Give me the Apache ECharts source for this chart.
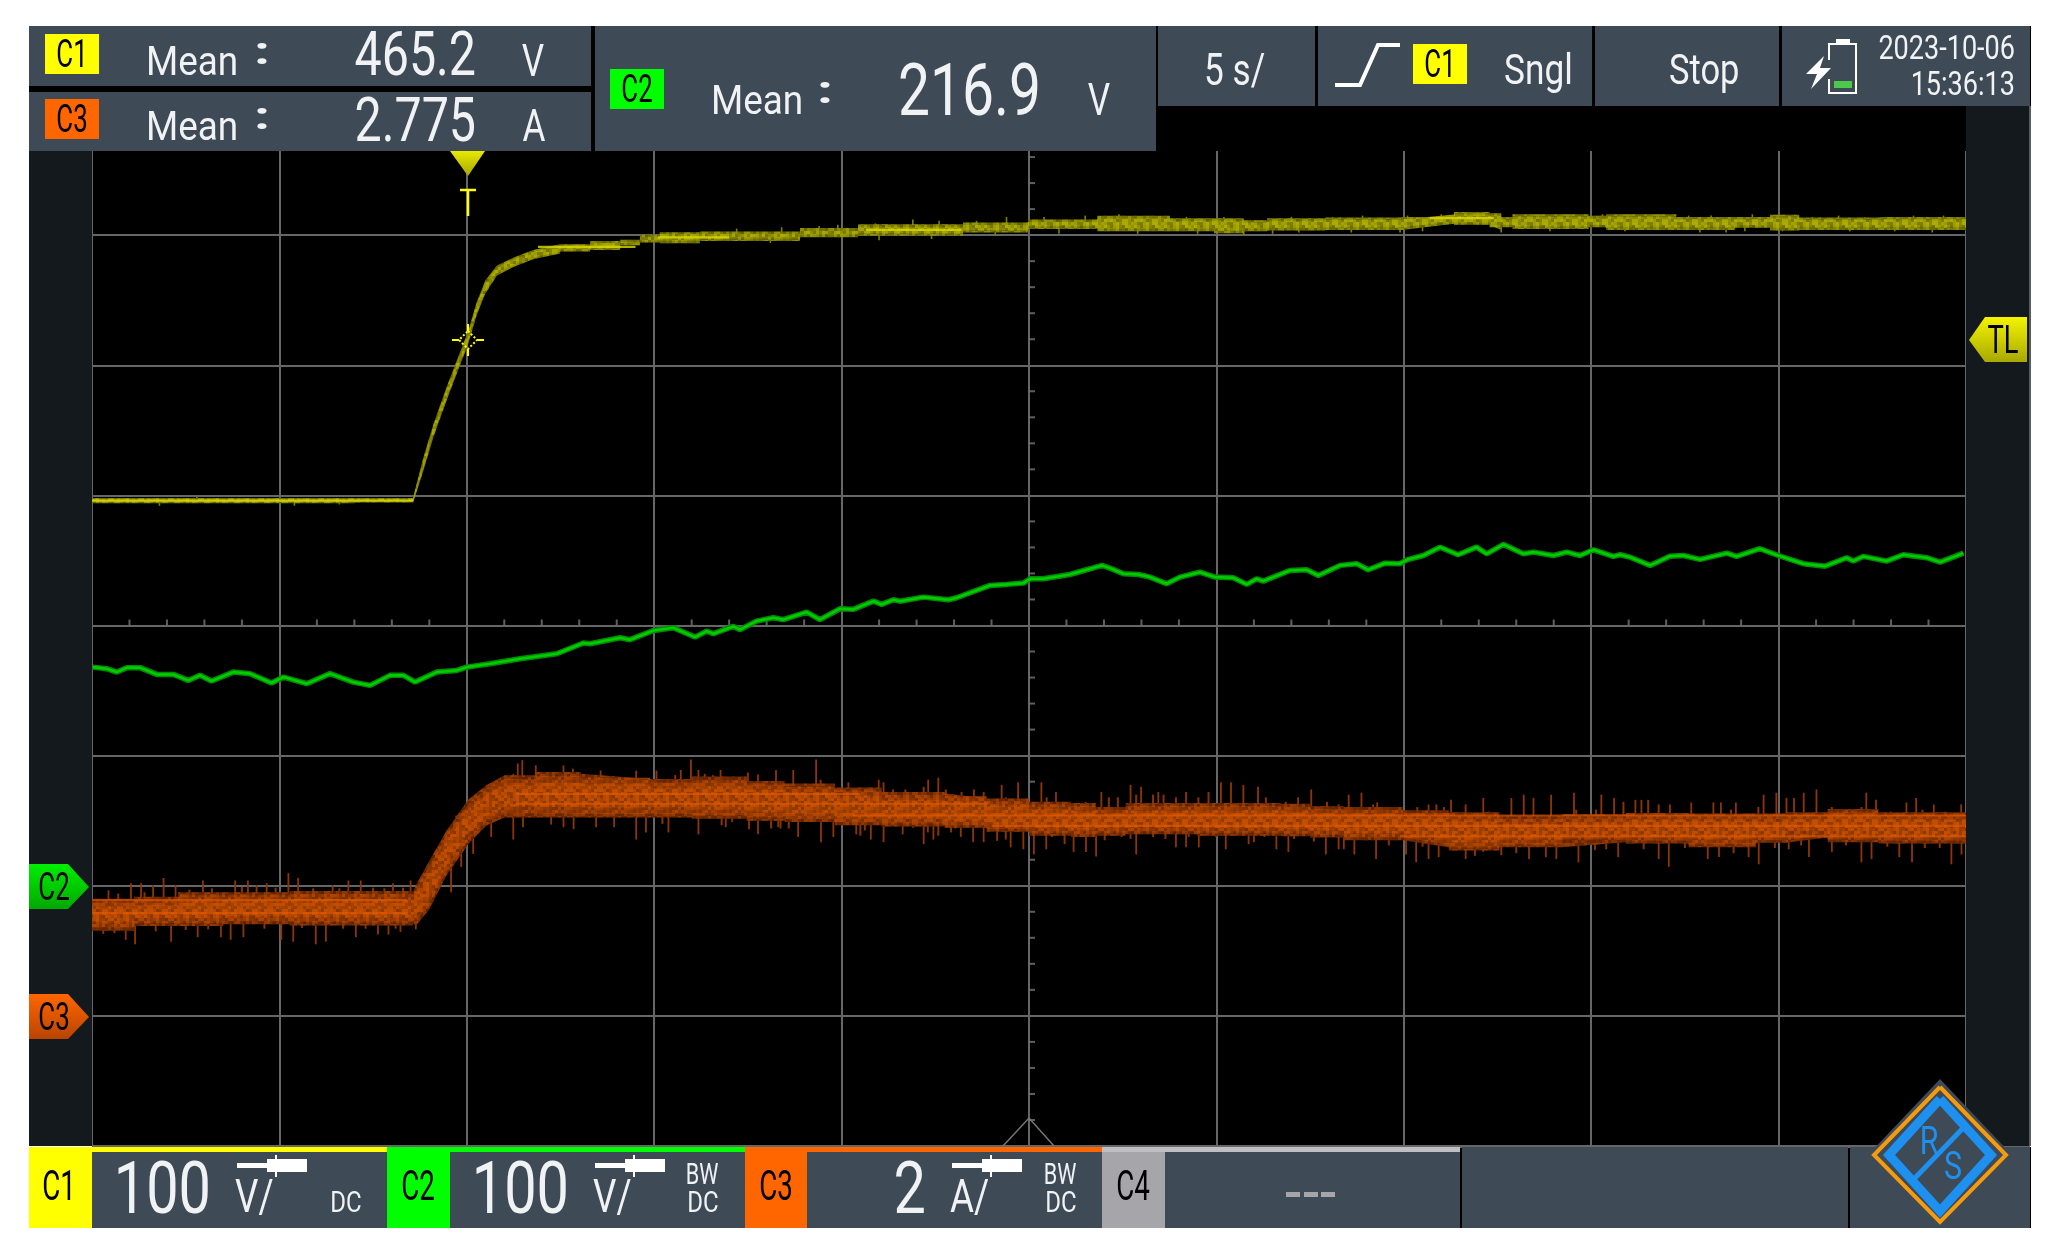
<!DOCTYPE html>
<html><head><meta charset="utf-8">
<style>html,body{margin:0;padding:0;background:#fff}#c{width:2067px;height:1255px}</style>
<script src="https://cdn.jsdelivr.net/npm/echarts@6/dist/echarts.min.js"></script>
</head><body><div id="c"></div>
<script>
// ---------- readouts ----------
const readoutMeanC1 = "465.2", readoutMeanC2 = "216.9", readoutMeanC3 = "2.775";
const timeBase = "5 s/", dateText = "2023-10-06", timeText = "15:36:13";
// ---------- C1 voltage (s, V, half-thickness of the band in V) ----------
const c1Times = [-10,-6,-3,-1.43,-1.16,-0.89,-0.54,-0.27,0.04,0.26,0.49,0.80,1.24,1.77,2.49,3.29,4.09,4.62,5.15,6.22,8.89,10.44,13.24,14.97,16.82,18.76,19.94,20.73,21.35,22.9,24.94,26.34,27.29,27.6,27.9,29.93,30.4,32.27,33.84,34.77,35.55,37.73,40];
const c1Volts = [296,296,296,296.6,324,349.8,378,398.5,421.5,443.3,459.9,472.7,479.1,485,489.4,491.4,492.5,496.3,498.3,498.3,500.4,503.4,504.7,507,509.8,508,508,506.5,508,508.6,509,513.2,512.4,509,511,509.8,511,509,509,510.6,508.6,509,509];
const c1Spread = [2,2,2,2,5,5,5,5,5,5,5,4,3.5,3.5,3.5,4,4,4,4,4.5,5,5,5,5,5,5,5,5,5,5,5,4.5,4.5,5,5,5,5,5,5,5,5,5,5];
const c1Spikes = [[-8.2,292],[-7.2,299],[-4.6,292],[-3.4,293],[20.73,500],[27.6,502],[33.6,502],[21.5,501],[24.9,502],[26,516],[27,516],[30.3,516],[18.5,514],[16.5,515],[14.4,514],[11.9,512],[9.4,507],[7.2,505],[8.4,506],[9.9,508],[10.9,509],[12.6,511],[13.6,511],[15.4,514],[17.4,516],[19.2,514],[20.2,514],[22,514],[23.1,514],[23.9,515],[25.1,515],[28.4,516],[29.1,515],[31.2,515],[32.6,515],[33.2,515],[34.3,516],[35.9,514],[36.6,515],[37.3,514],[38.6,515],[39.4,515],[8.1,494],[11,496],[12.4,497],[14.1,500],[15.8,501],[17.9,501],[19.5,501],[22.2,502],[23.6,502],[25.5,503],[28.9,503],[30.9,503],[32.9,502],[34.1,503],[35.1,503],[36.9,503],[38.1,503],[39.1,502]];
const c1CoreSpans = [[-10,-1.43,296],[1.9,4.5,491],[5.1,7,498.3],[10.65,13.2,504],[25.7,27.4,513]];
// ---------- C2 voltage (s, V) ----------
const c2Times = [-9.98,-9.61,-9.34,-9.07,-8.72,-8.27,-7.83,-7.43,-7.12,-6.81,-6.23,-5.78,-5.21,-4.89,-4.27,-3.65,-3.03,-2.58,-2.05,-1.69,-1.38,-0.80,-0.27,0,0.62,1.42,2.40,3.11,3.29,4.09,4.35,4.98,5.51,6.09,6.40,6.58,7.11,7.29,7.73,8.18,8.44,9.07,9.42,9.96,10.31,10.85,11.07,11.38,11.56,12.18,12.85,13.07,13.96,14.41,14.85,15.03,15.38,16.09,16.63,16.94,17.16,17.52,17.92,18.23,18.67,19.03,19.56,19.96,20.45,20.81,21.07,21.25,21.96,22.41,22.72,23.30,23.74,24.05,24.50,24.90,25.08,25.52,25.97,26.45,26.94,27.21,27.66,28.19,28.46,28.99,29.35,29.70,30.06,30.59,30.77,31.04,31.57,32.10,32.46,32.90,33.62,33.88,34.50,34.99,35.66,36.24,36.82,36.99,37.26,37.88,38.33,38.95,39.31,39.93];
const c2Volts = [168,166.8,164.2,167.6,167.6,162.4,162.4,157.8,161.7,157.3,164.2,163,155.8,160.4,155.3,163,156.5,154,161.7,161.7,156.5,164.2,165.5,168,170.6,174.5,178.3,186.5,186,190.6,189.1,196.2,198.3,191.1,195.7,193.7,199.3,196.8,203.4,206,204.5,210.3,204.5,212.9,212.4,218.7,216.2,219.8,218.7,221.8,219.8,221.3,230.8,231.6,232.6,235.9,235.9,239.2,243.6,246.2,244.1,239.8,239.2,237.2,232.1,237.2,241,237.2,236.7,231.6,235.9,234.1,242.3,242.8,238.5,246.2,247.5,242.8,247.9,247.5,250.5,253.8,260.2,254.4,260.2,255.1,262.3,255.1,256.4,253.8,256.4,253.8,258.2,253.1,254.4,252.5,246.2,253.3,253.8,250.8,255.6,253.1,259,253.8,247.5,245.6,252.1,249.5,253.1,249.5,254.4,252.1,248.7,255.6];
// ---------- C3 current envelope (s, A) ----------
const c3Times = [-10,-8.88,-7.7,-6.5,-4.72,-2.93,-1.44,-1.33,-1.02,-0.54,0.05,0.53,1.01,1.84,3.04,4.89,6.0,7.47,8.48,9.82,11.07,12.75,13.87,15,16.12,16.79,17.58,19.48,21.73,22.5,23.4,24.97,26.2,27.55,29.23,30.92,32.6,34.4,35.19,36.31,37.66,38.78,40];
const c3Upper = [1.80,1.83,1.90,1.90,1.92,1.92,1.90,2.04,2.36,2.85,3.33,3.55,3.70,3.75,3.72,3.64,3.68,3.61,3.57,3.51,3.44,3.42,3.34,3.29,3.27,3.21,3.27,3.27,3.26,3.22,3.21,3.16,3.13,3.08,3.10,3.12,3.11,3.11,3.13,3.18,3.13,3.13,3.11];
const c3Lower = [1.30,1.31,1.38,1.38,1.41,1.39,1.39,1.41,1.62,2.16,2.65,2.93,3.05,3.05,3.05,3.05,3.05,3.03,3.00,2.98,2.93,2.91,2.89,2.83,2.77,2.75,2.77,2.79,2.77,2.76,2.74,2.70,2.59,2.54,2.59,2.67,2.65,2.59,2.66,2.74,2.67,2.65,2.65];
const c3SpikesUp = [[-9.56,1.93],[-8.96,2.04],[-8.69,2.04],[-8.37,2.01],[-8.09,2.12],[-7.77,2.01],[-7.04,2.08],[-6.18,2.08],[-5.84,2.08],[-5.61,2.01],[-5.34,2.04],[-4.76,2.195],[-4.50,2.12],[-3.58,2.01],[-3.16,2.08],[-2.83,2.08],[-1.97,2.04],[-1.50,2.08],[-0.28,3.08],[1.24,3.72],[1.36,3.88],[1.48,3.93],[1.84,3.85],[2.58,3.85],[2.83,3.80],[3.57,3.77],[4.52,3.77],[5.06,3.77],[5.71,3.78],[5.98,3.94],[6.18,3.78],[6.77,3.78],[7.50,3.74],[7.77,3.71],[8.25,3.78],[8.71,3.78],[9.32,3.94],[10.18,3.59],[10.99,3.63],[11.12,3.59],[12.31,3.63],[12.58,3.66],[14.27,3.55],[14.71,3.59],[15.33,3.59],[15.72,3.44],[16.93,3.44],[17.71,3.55],[17.99,3.52],[18.45,3.44],[19.19,3.44],[20.12,3.59],[20.39,3.59],[20.72,3.55],[21.11,3.52],[22.18,3.36],[22.53,3.48],[23.53,3.40],[23.87,3.43],[24.29,3.28],[25.66,3.25],[26.26,3.32],[27.12,3.35],[27.87,3.35],[28.20,3.40],[28.46,3.35],[28.93,3.40],[29.54,3.43],[30.27,3.40],[30.61,3.35],[31.18,3.32],[31.34,3.32],[32.67,3.28],[33.26,3.28],[33.46,3.28],[33.86,3.28],[34.60,3.40],[34.94,3.43],[35.21,3.35],[35.41,3.35],[35.67,3.43],[36.01,3.48],[37.34,3.43],[37.60,3.32],[38.41,3.28],[38.67,3.35],[39.14,3.25],[39.87,3.25]];
const c3SpikesDown = [[-9.10,1.17],[-8.85,1.10],[-7.89,1.14],[-7.18,1.21],[-6.56,1.21],[-6.30,1.17],[-5.96,1.21],[-4.95,1.17],[-4.63,1.14],[-4.03,1.10],[-3.76,1.14],[-2.96,1.21],[-2.37,1.25],[-2.09,1.25],[-1.77,1.29],[-1.36,1.33],[-0.42,1.90],[-0.15,2.29],[0.17,2.49],[0.65,2.75],[1.24,2.71],[1.50,2.90],[2.25,2.94],[2.58,2.90],[2.85,2.87],[3.45,2.90],[3.93,2.90],[4.52,2.71],[4.78,2.82],[5.38,2.82],[6.18,2.79],[6.91,2.90],[7.53,2.87],[7.77,2.79],[8.31,2.90],[8.84,2.75],[9.45,2.67],[9.78,2.75],[10.39,2.79],[10.78,2.71],[11.12,2.67],[11.63,2.79],[12.19,2.64],[12.45,2.71],[13.18,2.75],[13.51,2.67],[13.79,2.67],[14.51,2.59],[14.85,2.56],[15.13,2.48],[15.46,2.56],[16.19,2.52],[16.52,2.52],[16.79,2.45],[17.86,2.48],[18.92,2.59],[19.19,2.59],[19.53,2.59],[20.25,2.56],[20.86,2.64],[21.60,2.56],[21.92,2.52],[22.92,2.48],[23.26,2.56],[23.40,2.56],[23.68,2.48],[24.26,2.41],[25.06,2.48],[25.33,2.36],[25.66,2.41],[25.93,2.44],[26.65,2.41],[27.12,2.52],[28.34,2.41],[28.79,2.44],[29.07,2.41],[29.66,2.36],[30.72,2.44],[31.80,2.41],[32.07,2.29],[33.11,2.41],[33.41,2.44],[34.20,2.44],[34.47,2.33],[35.27,2.56],[35.81,2.44],[36.42,2.52],[37.21,2.36],[37.48,2.41],[38.22,2.44],[38.56,2.36],[39.61,2.33],[39.88,2.48]];
const c3HairsUp = [[-9.3,1.88],[-8.6,1.90],[-7.4,1.94],[-6.8,1.96],[-6.0,1.98],[-5.1,1.97],[-4.1,1.96],[-3.4,1.96],[-2.5,1.97],[-2.2,1.96],[-1.7,1.97],[5.56,3.70],[6.35,3.72],[6.57,3.70],[7.19,3.66],[7.36,3.66],[9.44,3.63],[10.78,3.51],[11.37,3.48],[11.70,3.48],[12.19,3.52],[12.78,3.48],[13.20,3.44],[13.53,3.48],[13.79,3.44],[14.38,3.36],[14.88,3.32],[15.47,3.36],[16.51,3.29],[17.13,3.36],[17.37,3.36],[17.86,3.40],[18.31,3.40],[18.59,3.40],[18.92,3.36],[19.52,3.36],[19.79,3.44],[21.32,3.36],[21.85,3.29],[22.95,3.29],[23.26,3.25],[24.18,3.25],[25.36,3.21],[25.87,3.25],[26.07,3.21],[26.65,3.25],[27.27,3.14],[29.6,3.17],[30.13,3.17],[30.86,3.29],[31.52,3.32],[31.8,3.25],[32.1,3.25],[33.73,3.17],[34.46,3.21],[36.42,3.21],[36.65,3.17],[37.21,3.21],[37.99,3.14],[38.84,3.17],[39.45,3.14]];
const c3HairsDown = [[-9.7,1.26],[-9.4,1.27],[-8.3,1.30],[-7.5,1.32],[-6.9,1.33],[-5.4,1.34],[-4.4,1.35],[-3.3,1.34],[-2.7,1.34],[-1.9,1.34],[5.22,2.95],[6.80,2.93],[7.08,2.98],[8.12,2.88],[8.37,2.88],[8.59,2.88],[9.16,2.98],[10.50,2.77],[10.62,2.85],[11.40,2.93],[11.91,2.89],[12.30,2.82],[12.58,2.77],[12.92,2.82],[13.03,2.88],[14.15,2.69],[14.38,2.71],[15.61,2.75],[15.95,2.64],[17.02,2.70],[17.47,2.75],[17.71,2.72],[18.31,2.75],[18.64,2.72],[19.26,2.75],[19.99,2.75],[21.0,2.67],[21.28,2.75],[22.07,2.72],[22.6,2.68],[24.6,2.62],[25.5,2.60],[26.9,2.46],[27.6,2.47],[28.0,2.50],[30.1,2.55],[30.4,2.56],[31.4,2.56],[32.5,2.58],[33.8,2.50],[34.9,2.58],[35.6,2.62],[36.8,2.62],[37.9,2.60],[38.9,2.58],[39.3,2.58]];
const c3Streaks = [[-10,-1.6,1.58],[-10,-1.6,1.78],[1.3,10.5,3.41],[1.3,13.9,3.26],[10.3,26,3.08],[14,40,2.92],[24.9,40,2.76],[26,40,3.08]];
// ---------- axes (per division scales) ----------
const timeMin = -10, timeMax = 40, timeDiv = 5;
const c1Min = -200, c1Max = 600, voltDiv = 100;
const c2Min = -200, c2Max = 600;
const c3Min = -2, c3Max = 14, ampDiv = 2;

const PANEL='#3e4a56', SIDE='#14191d', WHITE='#f0f2f4';
const FONT='Roboto';

// mottled phosphor look: a fixed tile, no data in it
const tileRows=["3141592653","5897932384","6264338327","9502884197","1693993751","0582097494","4592307816","4062862089","9862803482","5342117067"];
function tile(bright,w,h){
  const c=document.createElement('canvas');c.width=10*w;c.height=10*h;const x=c.getContext('2d');
  tileRows.forEach((r,j)=>[...r].forEach((d,i)=>{
    d=+d;
    x.fillStyle=d<5?'rgba(0,0,0,'+(5-d)*0.045+')':bright.replace('A',(d-4)*0.055);
    x.fillRect(i*w,j*h,w,h);
  }));
  return {image:c,repeat:'repeat'};
}
function band(times, hi, lo, color, yIdx, z){
  return {type:'custom',coordinateSystem:'cartesian2d',xAxisIndex:0,yAxisIndex:yIdx,z,clip:true,silent:true,
    data:times.map((t,i)=>[t,hi[i],lo[i]]),encode:{x:0,y:[1,2]},
    renderItem(p,api){
      if(p.dataIndex!==0) return null;
      const pts=[];
      const step=(a,b)=>Math.abs(a[1]-b[1])<5;
      for(let i=0;i<times.length;i++){
        const q=api.coord([times[i],hi[i]]);
        if(i&&step(pts[pts.length-1],q)) pts.push([q[0],pts[pts.length-1][1]]);
        pts.push(q);
      }
      for(let i=times.length-1;i>=0;i--){
        const q=api.coord([times[i],lo[i]]);
        if(i<times.length-1&&step(pts[pts.length-1],q)) pts.push([q[0],pts[pts.length-1][1]]);
        pts.push(q);
      }
      return {type:'polygon',shape:{points:pts},style:{fill:color}};
    }};
}
function spikes(list, times, hi, lo, color, yIdx, z, w){
  function mid(t){
    for(let i=1;i<times.length;i++) if(t<=times[i]){
      const f=(t-times[i-1])/(times[i]-times[i-1]);
      return (hi[i-1]+(hi[i]-hi[i-1])*f+lo[i-1]+(lo[i]-lo[i-1])*f)/2;
    }
    return (hi[hi.length-1]+lo[lo.length-1])/2;
  }
  return {type:'custom',coordinateSystem:'cartesian2d',xAxisIndex:0,yAxisIndex:yIdx,z,clip:true,silent:true,
    data:list,encode:{x:0,y:1},
    renderItem(p,api){
      const t=api.value(0),a=api.coord([t,api.value(1)]),b=api.coord([t,mid(t)]);
      return {type:'line',shape:{x1:a[0],y1:a[1],x2:b[0],y2:b[1]},style:{stroke:color,lineWidth:w}};
    }};
}
function spans(list,color,yIdx,z,w,op){
  return {type:'custom',coordinateSystem:'cartesian2d',xAxisIndex:0,yAxisIndex:yIdx,z,clip:true,silent:true,
    data:list,encode:{x:[0,1],y:2},
    renderItem(p,api){
      const a=api.coord([api.value(0),api.value(2)]),b=api.coord([api.value(1),api.value(2)]);
      return {type:'line',shape:{x1:a[0],y1:a[1],x2:b[0],y2:b[1]},style:{stroke:color,lineWidth:w,opacity:op}};
    }};
}
const inset=(hi,lo,f)=>[hi.map((v,i)=>v-(v-lo[i])*f),lo.map((v,i)=>v+(hi[i]-v)*f)];
const c1Hi=c1Volts.map((v,i)=>v+c1Spread[i]), c1Lo=c1Volts.map((v,i)=>v-c1Spread[i]);
const [c1InHi,c1InLo]=inset(c1Hi,c1Lo,0.2);
const [c3MidHi,c3MidLo]=inset(c3Upper,c3Lower,0.09);
const [c3InHi,c3InLo]=inset(c3Upper,c3Lower,0.24);

// centre-line graticule ticks, every 0.2 division
const xTicks=[],yTicks=[];
for(let i=0;i<=50;i++) if(i%5) xTicks.push([timeMin+i*timeDiv/5,200]);
for(let i=0;i<=40;i++) if(i%5) yTicks.push([15,c1Min+i*voltDiv/5]);

// ---------- instrument chrome ----------
const g=[];
function R(x,y,w,h,fill,z){g.push({type:'rect',z:z||10,silent:true,shape:{x,y,width:w,height:h},style:{fill}});}
function T(t,x,y,size,sx,color,align,z,weight){g.push({type:'text',z:z||20,silent:true,x,y:y+size*0.08,scaleX:sx,style:{text:t,x:0,y:0,fill:color||WHITE,font:(weight||'normal')+' '+size+'px '+FONT,textAlign:align||'left',textVerticalAlign:'middle'}});}
function P(pts,fill,z){g.push({type:'polygon',z:z||15,silent:true,shape:{points:pts},style:{fill}});}
function L(pts,stroke,w,z,dash){g.push({type:'polyline',z:z||15,silent:true,shape:{points:pts},style:{stroke,lineWidth:w,fill:'none',lineDash:dash||null}});}
const grad=(a,b)=>({type:'linear',x:0,y:0,x2:0,y2:1,colorStops:[{offset:0,color:a},{offset:1,color:b}]});
const YEL='#ffff00',GRN='#00ff00',ORG='#ff6600',GRY='#a5a5aa';

R(29,26,2002,125,'#000000',9);
R(29,1147,2002,81,'#000000',9);
R(29,151,63,995,SIDE); R(1966,106,64,1040,SIDE); R(2029,106,2,1040,'#555b60');
R(29,26,562,60,PANEL); R(29,92,562,59,PANEL); R(595,26,561,125,PANEL);
R(1158,26,157,80,PANEL); R(1318,26,274,80,PANEL); R(1595,26,184,80,PANEL); R(1782,26,248,80,PANEL);

const CHIP=38, CHIPS=0.68;
R(45,34,54,40,YEL); T('C1',72,54,CHIP,CHIPS,'#000','center');
T('Mean',146,61,41,0.9); T(':',262,51,38,1.5,WHITE,'center',20,'bold');
T(readoutMeanC1,476,55,62,0.78,WHITE,'right'); T('V',533,61,44,0.8,WHITE,'center');
R(45,99,54,40,ORG); T('C3',72,119,CHIP,CHIPS,'#000','center');
T('Mean',146,126,41,0.9); T(':',262,116,38,1.5,WHITE,'center',20,'bold');
T(readoutMeanC3,476,121,62,0.78,WHITE,'right'); T('A',534,126,44,0.8,WHITE,'center');
R(610,69,54,40,GRN); T('C2',637,89,CHIP,CHIPS,'#000','center');
T('Mean',711,100,41,0.9); T(':',825,90,38,1.5,WHITE,'center',20,'bold');
T(readoutMeanC2,1041,91,73,0.78,WHITE,'right'); T('V',1099,100,44,0.8,WHITE,'center');

T(timeBase,1204,70,44,0.8);
L([[1335,85],[1360,85],[1378,45],[1400,45]],'#ffffff',4,20);
R(1413,44,54,40,YEL); T('C1',1440,64,CHIP,CHIPS,'#000','center');
T('Sngl',1504,70,42,0.84); T('Stop',1669,70,42,0.82);
L([[1829,79],[1829,93],[1856,93],[1856,44],[1829,44],[1829,60]],'#ffffff',2,20);
R(1836,39,14,5,'#ffffff',20); R(1834,81,18,7,'#4cc84c',20);
P([[1824,56],[1806,74],[1817,74],[1811,89],[1831,68],[1820,68]],'#ffffff',20);
T(dateText,2015,48,33,0.82,WHITE,'right'); T(timeText,2015,84,33,0.82,WHITE,'right');

// trigger markers
P([[450,151],[485,151],[468,176]],grad('#e8e800','#a8a800'),15);
L([[460,190],[476,190]],YEL,2.5,15); L([[468,190],[468,216]],YEL,2.5,15);
L([[468,331],[477,340],[468,349],[459,340],[468,331]],YEL,2,30,[2,2]);
L([[452,340],[459,340]],YEL,2,30); L([[477,340],[484,340]],YEL,2,30);
L([[468,324],[468,331]],YEL,2,30); L([[468,349],[468,356]],YEL,2,30);
P([[2027,317],[1985,317],[1969,340],[1985,362],[2027,362]],grad('#f4f400','#a8a800'),15);
T('TL',2003,340,38,0.72,'#000','center');
P([[29,864],[68,864],[89,887],[68,909],[29,909]],grad('#00ee00','#00a800'),15);
T('C2',54,887,38,CHIPS,'#000','center');
P([[29,994],[68,994],[89,1017],[68,1039],[29,1039]],grad('#ff6600','#b84400'),15);
T('C3',54,1017,38,CHIPS,'#000','center');
L([[1003,1146],[1029,1118],[1054,1146]],'#777',1.5,8);

// bottom bar
R(92,1146,1938,2,'#666',9);
R(29,1147,358,81,YEL); R(92,1152,295,76,PANEL);
R(387,1147,358,81,GRN); R(450,1152,295,76,PANEL);
R(745,1147,357,81,ORG); R(807,1152,295,76,PANEL);
R(1102,1147,358,81,'#bfbfc2'); R(1102,1152,63,76,GRY); R(1165,1152,295,76,PANEL);
R(1462,1147,386,81,PANEL); R(1850,1147,180,81,PANEL);
T('C1',59,1186,42,0.66,'#000','center'); T('C2',418,1186,42,0.66,'#000','center');
T('C3',776,1186,42,0.66,'#000','center'); T('C4',1133,1186,42,0.66,'#000','center');
function probe(dx){R(237+dx,1163,32,5,'#fff',20);R(267+dx,1159,40,13,'#fff',20);R(275+dx,1155,2,22,'#fff',20);}
T('100',211,1189,73,0.79,WHITE,'right'); T('V/',235,1197,46,0.8); probe(0); T('DC',346,1202,30,0.8,WHITE,'center');
T('100',569,1189,73,0.79,WHITE,'right'); T('V/',593,1197,46,0.8); probe(358); T('BW',702,1174,30,0.72,WHITE,'center'); T('DC',703,1202,30,0.8,WHITE,'center');
T('2',926,1189,73,0.79,WHITE,'right'); T('A/',950,1197,46,0.8); probe(715); T('BW',1060,1174,30,0.72,WHITE,'center'); T('DC',1061,1202,30,0.8,WHITE,'center');
R(1286,1192,14,5,GRY,20);R(1304,1192,14,5,GRY,20);R(1321,1192,14,5,GRY,20);

// logo
P([[1940,1079],[2012,1155],[1940,1228],[1868,1155]],PANEL,16);
L([[1940,1087],[2006,1155],[1940,1222],[1874,1155],[1940,1087]],'#f59b10',4,17);
L([[1940,1099],[1991,1155],[1940,1211],[1889,1155],[1940,1099]],'#1e90f0',9,18);
L([[1915,1178],[1966,1125]],'#1e90f0',5,18);
T('R',1929,1141,38,0.8,'#1e90f0','center',19); T('S',1953,1166,38,0.8,'#1e90f0','center',19);

const chart=echarts.init(document.getElementById('c'),null,{renderer:'canvas'});
chart.setOption({
  animation:false,backgroundColor:'#ffffff',
  grid:{left:92,right:101,top:105,bottom:109,show:true,backgroundColor:'#000000',borderWidth:0,containLabel:false},
  xAxis:{type:'value',min:timeMin,max:timeMax,interval:timeDiv,axisLabel:{show:false},axisTick:{show:false},axisLine:{show:false},
    splitLine:{show:true,lineStyle:{color:'#666666',width:2}}},
  yAxis:[
    {type:'value',min:c1Min,max:c1Max,interval:voltDiv,axisLabel:{show:false},axisTick:{show:false},axisLine:{show:false},splitLine:{show:true,lineStyle:{color:'#666666',width:2}}},
    {type:'value',min:c2Min,max:c2Max,interval:voltDiv,show:false,splitLine:{show:false}},
    {type:'value',min:c3Min,max:c3Max,interval:ampDiv,show:false,splitLine:{show:false}}
  ],
  series:[
    {type:'scatter',xAxisIndex:0,yAxisIndex:0,data:xTicks,symbol:'rect',symbolSize:[2,6],symbolOffset:[0,-3],silent:true,z:1,itemStyle:{color:'#777'}},
    {type:'scatter',xAxisIndex:0,yAxisIndex:0,data:yTicks,symbol:'rect',symbolSize:[6,2],symbolOffset:[3,0],silent:true,z:1,itemStyle:{color:'#777'}},
    spikes(c1Spikes,c1Times,c1Hi,c1Lo,'#808000',0,3,1.6),
    band(c1Times,c1Hi,c1Lo,'#7d7d00',0,4),
    band(c1Times,c1InHi,c1InLo,'#999900',0,5),
    band(c1Times,c1Hi,c1Lo,tile('rgba(220,220,0,A)',3,3),0,6),
    spans(c1CoreSpans,'#dcdc00',0,7,2.2,0.8),
    {type:'line',xAxisIndex:0,yAxisIndex:1,data:c2Times.map((t,i)=>[t,c2Volts[i]]),showSymbol:false,silent:true,z:5,lineStyle:{color:'#008c00',width:5.5}},
    {type:'line',xAxisIndex:0,yAxisIndex:1,data:c2Times.map((t,i)=>[t,c2Volts[i]]),showSymbol:false,silent:true,z:6,lineStyle:{color:'#00cc00',width:2.6}},
    spikes(c3SpikesUp,c3Times,c3Upper,c3Lower,'#8f3600',2,3,1.8),
    spikes(c3SpikesDown,c3Times,c3Upper,c3Lower,'#8f3600',2,3,1.8),
    spikes(c3HairsUp,c3Times,c3Upper,c3Lower,'#8a3300',2,3,2),
    spikes(c3HairsDown,c3Times,c3Upper,c3Lower,'#8a3300',2,3,2),
    band(c3Times,c3Upper,c3Lower,'#792d00',2,4),
    band(c3Times,c3MidHi,c3MidLo,'#9b3c00',2,5),
    band(c3Times,c3InHi,c3InLo,'#b34700',2,6),
    band(c3Times,c3Upper,c3Lower,tile('rgba(240,100,0,A)',3,3),2,7),
    spans(c3Streaks,'#e85c00',2,8,2.2,0.6)
  ],
  graphic:{elements:g}
});
</script></body></html>
